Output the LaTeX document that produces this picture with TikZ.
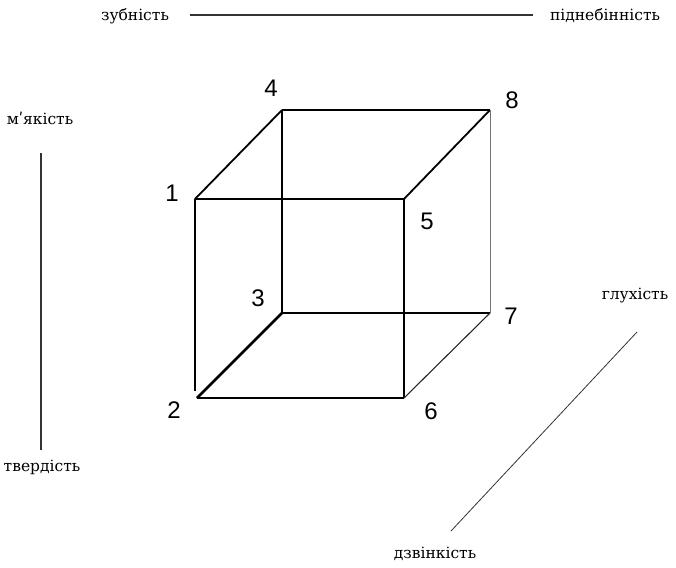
\documentclass[tikz,border=0pt]{standalone}
\usepackage{fontspec}
\setmainfont{DejaVu Serif}
\newfontfamily\digitfont{Liberation Sans}
\begin{document}
\begin{tikzpicture}[x=1pt,y=-1pt,
  thickedge/.style={line width=2.5pt,black},
  midedge/.style={line width=1.8pt,black},
  thinedge/.style={line width=1.1pt,black!85},
  hairedge/.style={line width=0.8pt,black!55},
  axis/.style={line width=1.1pt,black!80},
  num/.style={font=\digitfont\fontsize{24}{26}\selectfont,inner sep=0pt},
  word/.style={font=\fontsize{15.5}{17}\selectfont,inner sep=0pt}]
\useasboundingbox (0,0) rectangle (676,567);
% cube vertices
\coordinate (v1) at (195,199);
\coordinate (v1b) at (195,391);
\coordinate (v2) at (197,398);
\coordinate (v3) at (282,313);
\coordinate (v4) at (282,110);
\coordinate (v5) at (404,199);
\coordinate (v6) at (404,398);
\coordinate (v7) at (490,313);
\coordinate (v8) at (490,110);
% edges
\draw[thickedge] (v1) -- (v5);
\draw[thickedge] (v5) -- (v6);
\draw[thickedge] (v2) -- (v6);
\draw[thickedge] (v1) -- (v1b);
\draw[thickedge] (v4) -- (v8);
\draw[thickedge] (v4) -- (v3);
\draw[thickedge] (v3) -- (v7);
\draw[thickedge] (v2) -- (v3);
\draw[midedge] (v1) -- (v4);
\draw[midedge] (v5) -- (v8);
\draw[thinedge] (v6) -- (v7);
\draw[hairedge] (v8) -- (v7);
% vertex labels
\node[num] (n1) at (172,193) {1};
\node[num] (n2) at (174,410) {2};
\node[num] (n3) at (258,298) {3};
\node[num] (n4) at (271,88) {4};
\node[num] (n5) at (427,221) {5};
\node[num] (n6) at (431,411) {6};
\node[num] (n7) at (511,316) {7};
\node[num] (n8) at (512,100) {8};
% axes
\node[word] (zub) at (135,16) {зубність};
\node[word] (pid) at (605,16) {піднебінність};
\coordinate (h1) at (190,15);
\coordinate (h2) at (533,15);
\draw[axis] (h1) -- (h2);
\node[word] (myak) at (40,118) {м\char"02B9якість};
\node[word] (tverd) at (42,467) {твердість};
\coordinate (va) at (41,153);
\coordinate (vb) at (41,450);
\draw[axis] (va) -- (vb);
\node[word] (hlukh) at (635,296) {глухість};
\node[word] (dzv) at (435,554) {дзвінкість};
\coordinate (da) at (451,531);
\coordinate (db) at (637,332);
\draw[line width=0.8pt,black!80] (da) -- (db);
\end{tikzpicture}
\end{document}
